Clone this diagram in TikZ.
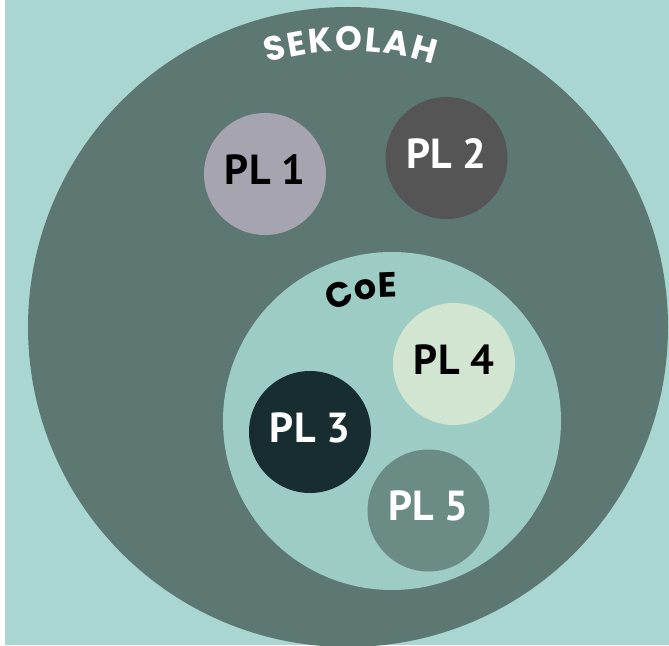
\documentclass[tikz,border=0pt]{standalone}
\usepackage{fontspec}
\usepackage{tikz}
\usetikzlibrary{calc,decorations.text}
\newfontfamily\plfont{PT Sans}
\newfontfamily\titlefont{Poppins}
\newcommand{\sekfont}{\titlefont\bfseries\fontsize{34}{36}\selectfont}
\newcommand{\coefont}{\titlefont\bfseries\fontsize{35}{37}\selectfont}
\definecolor{bgteal}{HTML}{A9D6D0}
\definecolor{sekolahgreen}{HTML}{5D7772}
\definecolor{coeteal}{HTML}{9DCCC4}
\definecolor{plone}{HTML}{A6A4AF}
\definecolor{pltwo}{HTML}{555555}
\definecolor{plthree}{HTML}{172D30}
\definecolor{plfour}{HTML}{D2E5D0}
\definecolor{plfive}{HTML}{6B8B85}

\begin{document}
\begin{tikzpicture}[x=1pt,y=1pt,
  plnode/.style={circle,inner sep=0pt,minimum size=122pt,text depth=9pt,
    font=\plfont\bfseries\fontsize{42}{42}\selectfont},
  arctext/.style={decorate,decoration={text along path,text align=fit to path,text color=#1}}]
\useasboundingbox (0,0) rectangle (669,645);
\fill[white] (0,0) rectangle (669,645);
\fill[bgteal] (5,0) rectangle (669,645);
\coordinate (o) at (348,318);
\coordinate (i) at (392,224);
\begin{scope}
\clip (5,0) rectangle (669,645);
\node[circle,fill=sekolahgreen,minimum size=640pt,inner sep=0pt] (sekolah) at (o) {};
\end{scope}
\node[circle,fill=coeteal,minimum size=338pt,inner sep=0pt] (coe) at (i) {};

% curved titles
\path[arctext=white,font=\sekfont,decoration={text={|\sekfont|SEKOLAH}}]
  ($(o)+(107:276)$) arc[start angle=107,end angle=72,radius=276];
\path[arctext=black,font=\coefont,decoration={text={|\coefont|CoE}}]
  ($(i)+(119:124)$) arc[start angle=119,end angle=91,radius=124];

\node[plnode,fill=plone,text=black] (pl1) at (265,471) {PL 1};
\node[plnode,fill=pltwo,text=white] (pl2) at (446.5,487) {PL 2};
\node[plnode,fill=plthree,text=white] (pl3) at (310,213) {PL 3};
\node[plnode,fill=plfour,text=black] (pl4) at (454,281) {PL 4};
\node[plnode,fill=plfive,text=white] (pl5) at (428.5,134.5) {PL 5};
\end{tikzpicture}
\end{document}
